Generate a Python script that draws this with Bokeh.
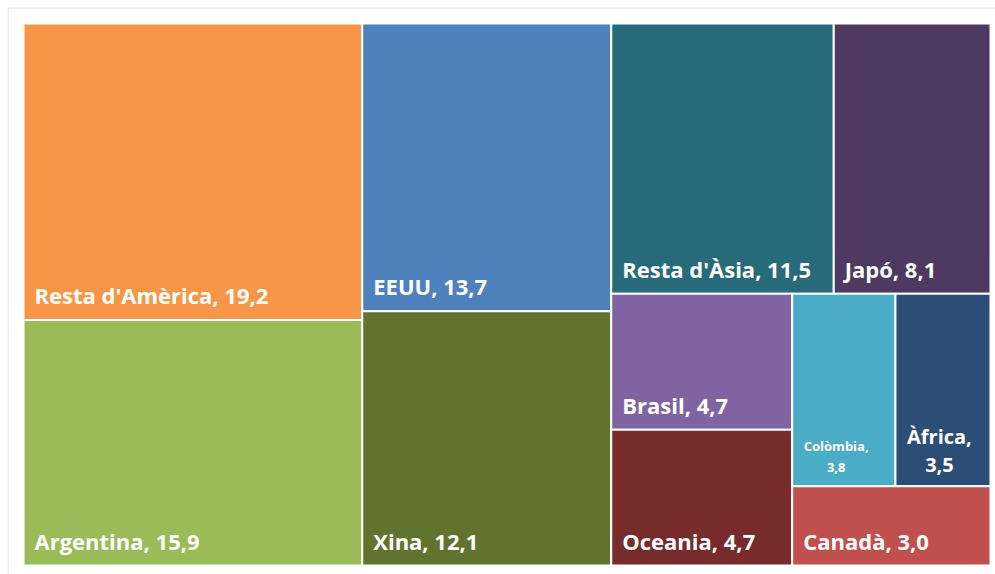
from bokeh.plotting import figure
from bokeh.models import Range1d, ColumnDataSource, Span
from bokeh.embed import file_html
from bokeh.resources import INLINE
from bokeh.core.properties import value

# ---- data ----
names = ["Resta d'Amèrica", "Argentina", "EEUU", "Xina", "Resta d'Àsia", "Japó",
         "Brasil", "Oceania", "Colòmbia", "Àfrica", "Canadà"]
values = [19.2, 15.9, 13.7, 12.1, 11.5, 8.1, 4.7, 4.7, 3.8, 3.5, 3.0]
labels = ["19,2", "15,9", "13,7", "12,1", "11,5", "8,1", "4,7", "4,7", "3,8", "3,5", "3,0"]
colors = ["#F79646", "#9BBB59", "#4F81BD", "#61742F", "#276B7B", "#4E3A60",
          "#8064A2", "#772B2A", "#4BACC6", "#2C4E76", "#C0504D"]
# groups of consecutive items laid out together (strip by strip)
groups = [[0, 1], [2, 3], [4, 5], [6, 7], [8, 9], [10]]

# ---- treemap layout (in frame pixel-proportional units) ----
W, H = 967.0, 542.0
rects = [None] * len(values)
x0, y0, x1, y1 = 0.0, 0.0, W, H
remaining = sum(values)
for g in groups:
    gsum = sum(values[i] for i in g)
    w, h = x1 - x0, y1 - y0
    if w >= h:
        sw = w * gsum / remaining
        cy = y0
        for i in g:
            hh = h * values[i] / gsum
            rects[i] = (x0, x0 + sw, cy, cy + hh)
            cy += hh
        x0 += sw
    else:
        sh = h * gsum / remaining
        cx = x0
        for i in g:
            ww = w * values[i] / gsum
            rects[i] = (cx, cx + ww, y0, y0 + sh)
            cx += ww
        y0 += sh
    remaining -= gsum

src = ColumnDataSource(dict(
    left=[r[0] for r in rects], right=[r[1] for r in rects],
    top=[r[2] for r in rects], bottom=[r[3] for r in rects],
    color=colors))

# frame starts at (7,7); treemap inset by 16px inside it
PAD_L, PAD_T, PAD_R, PAD_B = 16, 16, 5, 9
p = figure(width=995, height=574, output_backend="svg", toolbar_location=None,
           x_range=Range1d(-PAD_L, W + PAD_R), y_range=Range1d(H + PAD_B, -PAD_T),
           min_border_left=7, min_border_top=7, min_border_right=0, min_border_bottom=0)
p.axis.visible = False
p.grid.visible = False
p.outline_line_color = None
p.background_fill_color = "white"
p.border_fill_color = "white"

# chart border (left and top edges visible in the reference)
p.add_layout(Span(location=-PAD_L + 0.5, dimension="height", line_color="#D9D9D9", line_width=1))
p.add_layout(Span(location=-PAD_T + 0.5, dimension="width", line_color="#D9D9D9", line_width=1))

p.quad(left="left", right="right", top="top", bottom="bottom", source=src,
       fill_color="color", line_color="white", line_width=2)

FONT = value("Open Sans")
single = [i for i in range(len(values)) if i not in (8, 9)]
p.text(x=[rects[i][0] for i in single], y=[rects[i][3] for i in single],
       text=[f"{names[i]}, {labels[i]}" for i in single],
       x_offset=11, y_offset=-25, text_color="white", text_font=FONT,
       text_font_style="bold", text_font_size="22px", text_baseline="alphabetic",
       text_align="left")

# Àfrica (two lines)
p.text(x=[rects[9][0]], y=[rects[9][3]], text=[f"{names[9]},\n{labels[9]}"],
       x_offset=44, y_offset=-36, text_color="white", text_font=FONT,
       text_font_style="bold", text_font_size="20px", text_baseline="alphabetic",
       text_align="center", text_line_height=1.03)

# Colòmbia (two lines, smaller)
p.text(x=[rects[8][0]], y=[rects[8][3]], text=[f"{names[8]},\n{labels[8]}"],
       x_offset=44, y_offset=-30, text_color="white", text_font=FONT,
       text_font_style="bold", text_font_size="13px", text_baseline="alphabetic",
       text_align="center", text_line_height=1.13)

open("out.html", "w").write(file_html(p, INLINE))
